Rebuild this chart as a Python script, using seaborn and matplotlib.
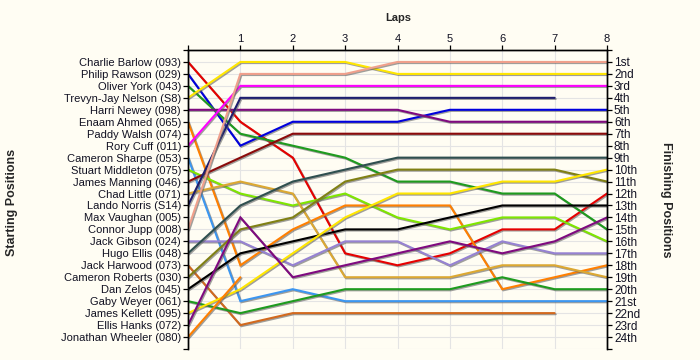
import matplotlib
matplotlib.use('Agg')
import matplotlib.pyplot as plt
import matplotlib.patheffects as pe
import pandas as pd
import seaborn as sns

laps = [0, 1, 2, 3, 4, 5, 6, 7, 8]

start_labels = [
    "Charlie Barlow (093)", "Philip Rawson (029)", "Oliver York (043)",
    "Trevyn-Jay Nelson (S8)", "Harri Newey (098)", "Enaam Ahmed (065)",
    "Paddy Walsh (074)", "Rory Cuff (011)", "Cameron Sharpe (053)",
    "Stuart Middleton (075)", "James Manning (046)", "Chad Little (071)",
    "Lando Norris (S14)", "Max Vaughan (005)", "Connor Jupp (008)",
    "Jack Gibson (024)", "Hugo Ellis (048)", "Jack Harwood (073)",
    "Cameron Roberts (030)", "Dan Zelos (045)", "Gaby Weyer (061)",
    "James Kellett (095)", "Ellis Hanks (072)", "Jonathan Wheeler (080)",
]

finish_labels = [
    "1st", "2nd", "3rd", "4th", "5th", "6th", "7th", "8th", "9th", "10th",
    "11th", "12th", "13th", "14th", "15th", "16th", "17th", "18th", "19th",
    "20th", "21st", "22nd", "23rd", "24th",
]

# drivers that took the start, with their position after each lap
drivers = [
    "Charlie Barlow", "Philip Rawson", "Oliver York", "Trevyn-Jay Nelson",
    "Harri Newey", "Enaam Ahmed", "Rory Cuff", "Cameron Sharpe",
    "Stuart Middleton", "James Manning", "Chad Little", "Lando Norris",
    "Connor Jupp", "Jack Gibson", "Hugo Ellis", "Jack Harwood",
    "Cameron Roberts", "Dan Zelos", "Gaby Weyer", "James Kellett",
    "Ellis Hanks", "Jonathan Wheeler",
]

positions = [
    [1, 6, 9, 17, 18, 17, 15, 15, 12],
    [2, 8, 6, 6, 6, 5, 5, 5, 5],
    [3, 7, 8, 9, 11, 11, 12, 12, 15],
    [4, 1, 1, 1, 2, 2, 2, 2, 2],
    [5, 5, 5, 5, 5, 6, 6, 6, 6],
    [6, 18, 15, 13, 13, 13, 20, 19, 18],
    [8, 3, 3, 3, 3, 3, 3, 3, 3],
    [9, 21, 20, 21, 21, 21, 21, 21, 21],
    [10, 12, 13, 12, 14, 15, 14, 14, 16],
    [11, 9, 7, 7, 7, 7, 7, 7, 7],
    [12, 11, 12, 19, 19, 19, 18, 18, 19],
    [13, 4, 4, 4, 4, 4, 4, 4, None],
    [15, 2, 2, 2, 1, 1, 1, 1, 1],
    [16, 16, 18, 16, 16, 18, 16, 17, 17],
    [17, 13, 11, 10, 9, 9, 9, 9, 9],
    [18, 23, 22, 22, 22, 22, 22, 22, None],
    [19, 15, 14, 11, 10, 10, 10, 10, 11],
    [20, 17, 16, 15, 15, 14, 13, 13, 13],
    [21, 22, 21, 20, 20, 20, 19, 20, 20],
    [22, 20, 17, 14, 12, 12, 11, 11, 10],
    [23, 14, 19, 18, 17, 16, 17, 16, 14],
    [24, 19, None, None, None, None, None, None, None],
]

line_colors = [
    "#E60000", "#0000DD", "#1E9B1E", "#FFE600", "#7F0A7F", "#FF7F00",
    "#FF00FF", "#3C96F0", "#7FE600", "#8B0A0A", "#DCA832", "#1E1E6E",
    "#F0A08C", "#9682D2", "#2F4F4F", "#D2691E", "#808014", "#000000",
    "#1E9B1E", "#FFE600", "#7F0A7F", "#FF7F00",
]


def main():
    bg = "#FFFDF3"
    sns.set_theme(style="white", rc={"axes.facecolor": bg, "figure.facecolor": bg})
    plt.rcParams["font.family"] = ["Liberation Sans", "DejaVu Sans"]

    rows = []
    for name, pos in zip(drivers, positions):
        for lap, p in zip(laps, pos):
            if p is not None:
                rows.append({"driver": name, "lap": lap, "position": p})
    df = pd.DataFrame(rows)

    fig = plt.figure(figsize=(7, 3.6), dpi=100)
    ax = fig.add_axes([188 / 700, 1 - 349 / 360, (607 - 188) / 700, (349 - 50) / 360])

    sns.lineplot(
        data=df, x="lap", y="position", hue="driver",
        palette=dict(zip(drivers, line_colors)), hue_order=drivers,
        estimator=None, sort=False, legend=False, linewidth=1.5, ax=ax,
    )
    for line in ax.lines:
        line.set_path_effects([
            pe.SimpleLineShadow(offset=(0.8, -0.8), shadow_color="#606060", alpha=0.6),
            pe.Normal(),
        ])
        line.set_solid_joinstyle("miter")

    ax.set_xlim(0, 8)
    ax.set_ylim(25, 0)
    ax.set_xticks(laps)
    ax.set_xticklabels([""] + [str(l) for l in laps[1:]])
    ax.xaxis.tick_top()
    ax.set_yticks(range(26))
    ax.set_yticklabels([""] + start_labels + [""])
    ax.set(xlabel=None, ylabel=None)
    ax.grid(True, color="#E4E4E4", linewidth=0.8)
    ax.set_axisbelow(True)

    ax2 = ax.twinx()
    ax2.set_ylim(25, 0)
    ax2.set_yticks(range(26))
    ax2.set_yticklabels([""] + finish_labels + [""])

    for a in (ax, ax2):
        for side in ("top", "left", "right"):
            a.spines[side].set_visible(True)
            a.spines[side].set_color("black")
            a.spines[side].set_linewidth(1.0)
        a.spines["bottom"].set_visible(False)
        a.tick_params(axis="both", direction="out", length=3.5, width=0.9,
                      color="black", labelsize=8, pad=1.5, labelcolor="#111122")
    ax.tick_params(axis="x", top=True, bottom=False, pad=1)
    ax.tick_params(axis="y", left=True)
    ax2.tick_params(axis="y", right=True, labelsize=8.5)

    fig.text(398 / 700, 1 - 18 / 360, "Laps", ha="center", va="center",
             fontsize=8, fontweight="bold")
    fig.text(12 / 700, 1 - 202 / 360, "Starting Positions", ha="center", va="center",
             rotation=90, fontsize=9, fontweight="bold")
    fig.text(666 / 700, 1 - 200 / 360, "Finishing Positions", ha="center", va="center",
             rotation=270, fontsize=9, fontweight="bold")

    fig.savefig("out.png", dpi=100, facecolor=bg)
    plt.close(fig)


if __name__ == '__main__':
    main()
